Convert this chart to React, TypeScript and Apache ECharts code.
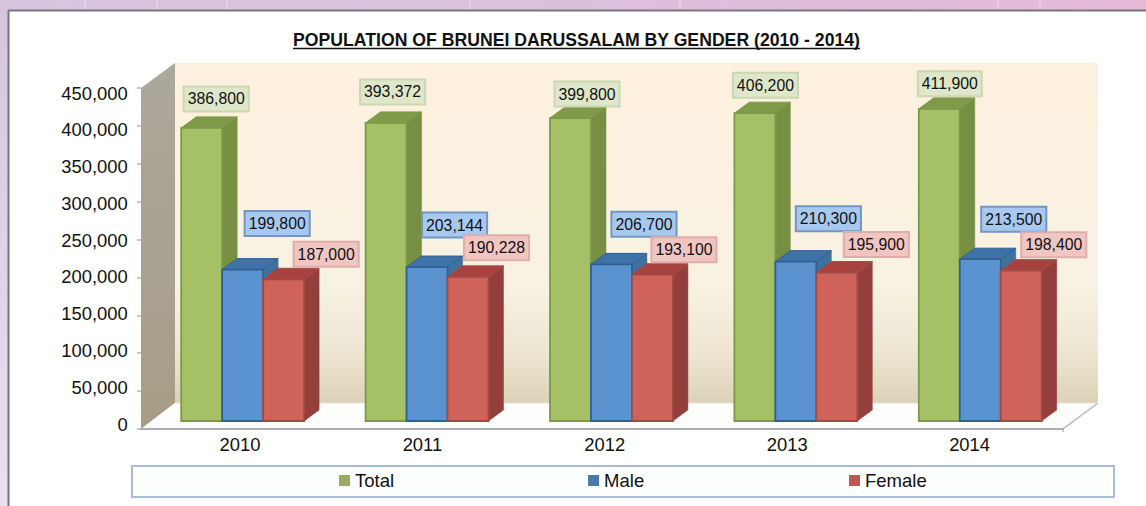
import React, { useEffect, useRef } from "react";
import * as echarts from "echarts";

const years = ["2010", "2011", "2012", "2013", "2014"];
const total = [386800, 393372, 399800, 406200, 411900];
const male = [199800, 203144, 206700, 210300, 213500];
const female = [187000, 190228, 193100, 195900, 198400];
const chartTitle = "POPULATION OF BRUNEI DARUSSALAM BY GENDER (2010 - 2014)";

// label nudges relative to each bar's front-top-left corner (layout only)
const nudgeTotal = [[35, -29], [27, -31], [37, -24], [31, -28], [31, -25]];
const nudgeMale = [[55, -46], [48, -42], [53, -40], [53, -43], [54, -40]];
const nudgeFemale = [[63, -25], [49, -29], [52, -25], [60, -28], [53, -26]];

const FONT = '"Liberation Sans", Arial, sans-serif';
const LG = echarts.graphic.LinearGradient;

function cuboid(slot: number, pal: any, nudge: number[][]) {
  return (params: any, api: any) => {
    const idx = api.value(0);
    const val = api.value(1);
    const band = api.size([1, 0])[0];
    const w = band * 0.2222;
    const centre = api.coord([idx, 0])[0];
    const left = centre - band * 0.282 + slot * w;
    const base = api.coord([idx, 0])[1] - 8;
    const top = api.coord([idx, val])[1] - 8;
    const dx = 15;
    const dy = -11;
    const right = left + w;
    const [nx, ny] = nudge[idx];
    return {
      type: "group",
      children: [
        {
          type: "polygon",
          shape: { points: [[right, top], [right + dx, top + dy], [right + dx, base + dy], [right, base]] },
          style: { fill: pal.side, stroke: pal.side, lineWidth: 0.5 },
        },
        {
          type: "polygon",
          shape: { points: [[left, top], [left + dx, top + dy], [right + dx, top + dy], [right, top]] },
          style: { fill: pal.top, stroke: pal.edge, lineWidth: 1 },
        },
        {
          type: "rect",
          shape: { x: left, y: top, width: w, height: base - top },
          style: { fill: pal.front, stroke: pal.edge, lineWidth: 1.8 },
        },
        {
          type: "text",
          z2: 50,
          x: left + nx,
          y: top + ny,
          style: {
            text: val.toLocaleString("en-US"),
            font: `15.8px ${FONT}`,
            fill: "#111",
            align: "center",
            verticalAlign: "middle",
            backgroundColor: pal.labelBg,
            borderColor: pal.labelBorder,
            borderWidth: 2,
            padding: [4, 3, 3, 3],
          },
        },
      ],
    };
  };
}

const palGreen = {
  front: "#a6c165", side: "#768f42", top: "#7f9a49", edge: "#7d9848",
  labelBg: "#dfe7ca", labelBorder: "#ccd7b2",
};
const palBlue = {
  front: "#5a93cf", side: "#3f719f", top: "#3f72a9", edge: "#2f608f",
  labelBg: "#a8c9ef", labelBorder: "#7297c0",
};
const palRed = {
  front: "#cf6259", side: "#943f3b", top: "#a8423f", edge: "#a24a44",
  labelBg: "#f0c5c2", labelBorder: "#dfaeaa",
};

const decoLines = [85, 157, 227, 470, 680, 998, 1040].map((x) => ({
  type: "line",
  shape: { x1: x, y1: 0, x2: x, y2: 10 },
  style: { stroke: "rgba(255,255,255,0.35)", lineWidth: 1.5 },
  z: -9,
}));

const legendText = { fontFamily: FONT, fontSize: 18.5, color: "#111" };

export default function App() {
  const ref = useRef<HTMLDivElement>(null);
  useEffect(() => {
    const chart = echarts.init(ref.current!, undefined, { renderer: "svg" });
    const toData = (arr: number[]) => arr.map((v, i) => [i, v]);
    chart.setOption({
      animation: false,
      backgroundColor: "#ffffff",
      textStyle: { fontFamily: FONT },
      title: {
        text: chartTitle,
        left: 571.5,
        top: 26,
        textAlign: "center",
        textStyle: { fontFamily: FONT, fontSize: 17.65, fontWeight: "bold", color: "#111" },
      },
      grid: [
        { left: 141, top: 88, width: 922, height: 341 },
        { left: 148.8, top: 93, width: 912, height: 331 },
      ],
      xAxis: [
        {
          type: "category",
          gridIndex: 0,
          data: years,
          axisLine: { lineStyle: { color: "#a9adb5", width: 2 } },
          axisTick: { length: 3, lineStyle: { color: "#b0b3ba", width: 1.5 } },
          axisLabel: { show: false },
          z: 1,
        },
        {
          type: "category",
          gridIndex: 1,
          data: years,
          axisLine: { show: false },
          axisTick: { show: false },
          axisLabel: { margin: 11, fontSize: 18.4, color: "#111", fontFamily: FONT },
        },
      ],
      yAxis: [
        {
          type: "value",
          gridIndex: 0,
          min: 0,
          max: 450000,
          interval: 50000,
          axisLine: { show: false },
          axisTick: { show: true, length: 4, lineStyle: { color: "#b5b5b5", width: 1.5 } },
          axisLabel: { show: false },
          splitLine: { show: false },
        },
        {
          type: "value",
          gridIndex: 1,
          min: 0,
          max: 450000,
          interval: 50000,
          axisLine: { show: false },
          axisTick: { show: false },
          axisLabel: {
            margin: 21,
            fontSize: 18.4,
            color: "#111",
            fontFamily: FONT,
            formatter: (v: number) => v.toLocaleString("en-US"),
          },
          splitLine: { show: false },
        },
      ],
      legend: [
        {
          left: 339,
          top: 471,
          itemWidth: 11,
          itemHeight: 11,
          itemGap: 194,
          icon: "rect",
          padding: 0,
          textStyle: legendText,
          data: [
            { name: "Total", itemStyle: { color: "#9aaa5e" } },
            { name: "Male", itemStyle: { color: "#4a78ab" } },
          ],
        },
        {
          left: 849,
          top: 471,
          itemWidth: 11,
          itemHeight: 11,
          icon: "rect",
          padding: 0,
          textStyle: legendText,
          data: [{ name: "Female", itemStyle: { color: "#c05750" } }],
        },
      ],
      series: [
        {
          type: "custom", name: "Total", renderItem: cuboid(0, palGreen, nudgeTotal),
          data: toData(total), encode: { x: 0, y: 1 }, itemStyle: { color: palGreen.front }, z: 3, clip: false,
        },
        {
          type: "custom", name: "Male", renderItem: cuboid(1, palBlue, nudgeMale),
          data: toData(male), encode: { x: 0, y: 1 }, itemStyle: { color: palBlue.front }, z: 4, clip: false,
        },
        {
          type: "custom", name: "Female", renderItem: cuboid(2, palRed, nudgeFemale),
          data: toData(female), encode: { x: 0, y: 1 }, itemStyle: { color: palRed.front }, z: 5, clip: false,
        },
      ],
      graphic: [
        {
          type: "rect", z: -10, shape: { x: 0, y: 0, width: 1146, height: 10 },
          style: { fill: new LG(0, 0, 1, 0, [
            { offset: 0, color: "#d7c5e0" }, { offset: 0.55, color: "#dcc0dd" }, { offset: 1, color: "#e6b9d7" },
          ]) },
        },
        {
          type: "rect", z: -10, shape: { x: 0, y: 0, width: 8, height: 506 },
          style: { fill: new LG(0, 0, 0, 1, [
            { offset: 0, color: "#d6c4df" }, { offset: 1, color: "#eae0f1" },
          ]) },
        },
        ...decoLines,
        { type: "line", z: -8, shape: { x1: 8, y1: 10.5, x2: 1146, y2: 10.5 }, style: { stroke: "#77777c", lineWidth: 2 } },
        { type: "line", z: -8, shape: { x1: 8.5, y1: 10, x2: 8.5, y2: 506 }, style: { stroke: "#77777c", lineWidth: 2 } },
        {
          type: "rect", z: -8, shape: { x: 132, y: 466, width: 982, height: 31 },
          style: { fill: "#fdfefe", stroke: "#a9bdd7", lineWidth: 2 },
        },
        {
          type: "polygon", z: -7,
          shape: { points: [[175, 63], [1098, 63], [1098, 403], [175, 403]] },
          style: { fill: new LG(0, 0, 0, 1, [
            { offset: 0, color: "#fef0de" }, { offset: 0.65, color: "#f8f2e3" }, { offset: 0.85, color: "#eee6d2" }, { offset: 1, color: "#dcd2b8" },
          ]) },
        },
        {
          type: "polygon", z: -6,
          shape: { points: [[141, 88], [175, 63], [175, 403], [141, 429]] },
          style: { fill: new LG(0, 0, 0, 1, [
            { offset: 0, color: "#aca89d" }, { offset: 1, color: "#a89c85" },
          ]) },
        },
        {
          type: "polygon", z: -6,
          shape: { points: [[141, 429], [175, 403], [1098, 403], [1063, 429]] },
          style: { fill: "#fdfdfb" },
        },
        {
          type: "polyline", z: -5,
          shape: { points: [[1098, 403], [1063, 429], [1063, 432]] },
          style: { stroke: "#b7bac0", lineWidth: 1.5, fill: "none" },
        },
        { type: "line", z: -5, shape: { x1: 175, y1: 403, x2: 1098, y2: 403 }, style: { stroke: "#e5e1d6", lineWidth: 1 } },
        { type: "line", z: 1, shape: { x1: 293, y1: 48.5, x2: 860, y2: 48.5 }, style: { stroke: "#111", lineWidth: 1.5 } },
      ],
    });
    return () => chart.dispose();
  }, []);
  return <div ref={ref} style={{ position: "fixed", left: 0, top: 0, width: 1146, height: 506 }} />;
}
